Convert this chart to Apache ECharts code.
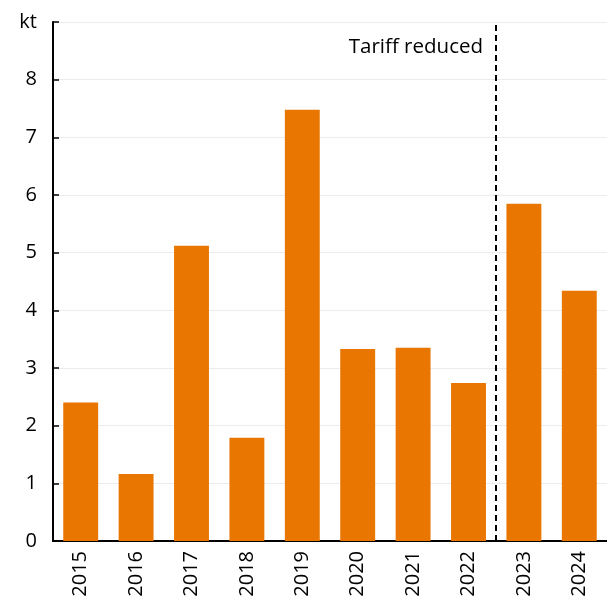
<!DOCTYPE html>
<html>
<head>
<meta charset="utf-8">
<script src="https://cdn.jsdelivr.net/npm/echarts@6/dist/echarts.min.js"></script>
<style>
  html, body { margin: 0; padding: 0; background: #fff; }
  #main { width: 607px; height: 597px; }
</style>
</head>
<body>
<div id="main"></div>
<script>
// data
var years = ['2015', '2016', '2017', '2018', '2019', '2020', '2021', '2022', '2023', '2024'];
var kt = [2.4, 1.16, 5.12, 1.79, 7.48, 3.33, 3.35, 2.74, 5.85, 4.34];
var tariffAt = 8; // boundary between 2022 and 2023 (category index)

var chart = echarts.init(document.getElementById('main'));
var font = 'Open Sans';

var option = {
    animation: false,
    grid: { left: 53, right: 0, top: 22, bottom: 56, containLabel: false, outerBoundsMode: 'none' },
    xAxis: [
        {
            type: 'category',
            data: years,
            axisLine: { lineStyle: { color: '#000', width: 2 } },
            axisTick: { inside: true, length: 6, lineStyle: { color: '#000', width: 1.5 } },
            axisLabel: { rotate: 90, margin: 10, color: '#000', fontSize: 20, fontFamily: font }
        },
        {
            // hidden helper axis so the dashed line sits on a category boundary
            type: 'value', min: 0, max: years.length, show: false
        }
    ],
    yAxis: {
        type: 'value',
        min: 0, max: 9, interval: 1,
        axisLine: { show: true, lineStyle: { color: '#000', width: 2 } },
        axisTick: { show: true, inside: true, length: 6, lineStyle: { color: '#000', width: 1.5 } },
        splitLine: { show: true, lineStyle: { color: '#ececec', width: 1 } },
        axisLabel: {
            margin: 16, color: '#000', fontSize: 20, fontFamily: font,
            formatter: function (v) { return v === 9 ? 'kt' : v; }
        }
    },
    graphic: [{
        type: 'text', right: 124, top: 37,
        style: { text: 'Tariff reduced', fill: '#000', font: '20.5px "Open Sans"' }
    }],
    series: [
        {
            type: 'bar',
            data: kt,
            barWidth: '63%',
            itemStyle: { color: '#e97600' }
        },
        {
            type: 'scatter',
            xAxisIndex: 1,
            data: [],
            markLine: {
                silent: true,
                symbol: 'none',
                label: { show: false },
                lineStyle: { color: '#000', type: [6, 4], width: 2 },
                data: [{ xAxis: tariffAt }]
            }
        }
    ]
};

chart.setOption(option);
</script>
</body>
</html>
